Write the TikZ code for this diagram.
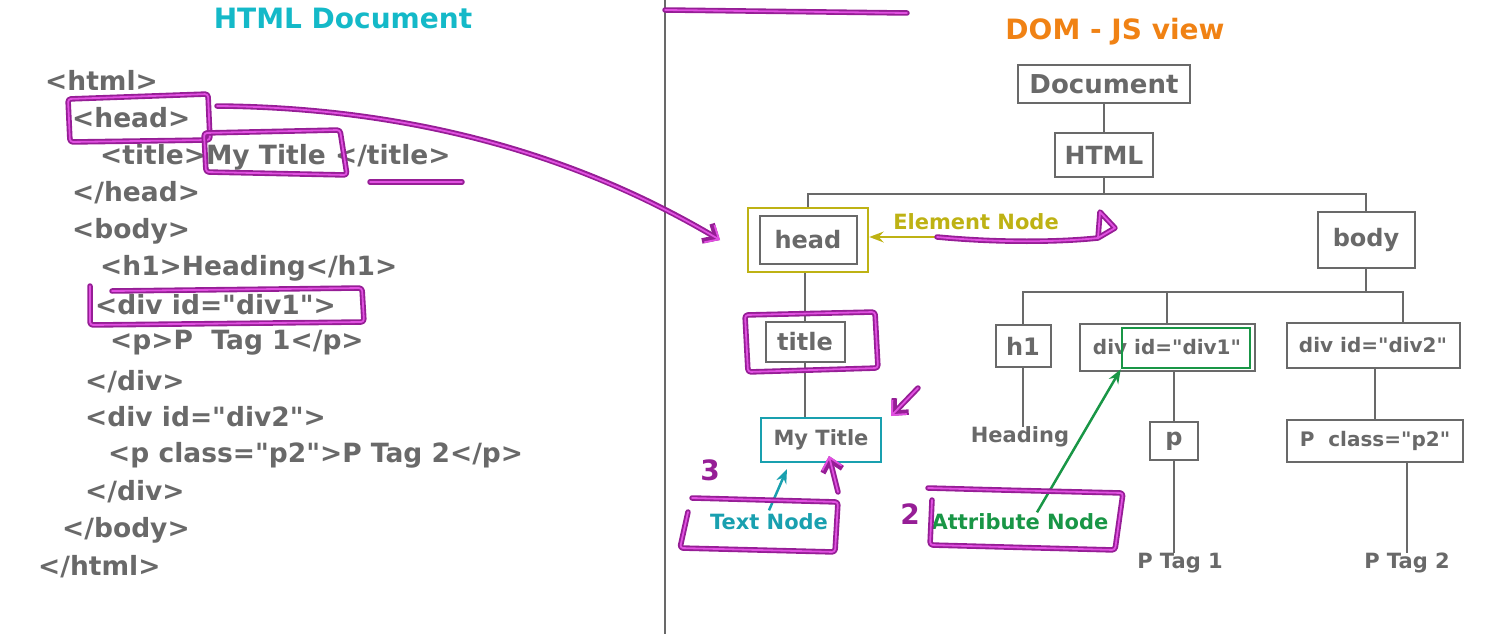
\documentclass[tikz,border=0pt]{standalone}
\usepackage{fontspec}
\setmainfont{DejaVu Sans}[Ligatures=TeXOff]
\usetikzlibrary{calc,arrows.meta}

\definecolor{codegray}{RGB}{105,105,105}
\definecolor{htmlcyan}{RGB}{20,185,200}
\definecolor{domorange}{RGB}{240,130,20}
\definecolor{elyellow}{RGB}{190,178,20}
\definecolor{txtcyan}{RGB}{25,160,175}
\definecolor{attrgreen}{RGB}{25,150,70}
\definecolor{penmag}{RGB}{150,30,150}
\definecolor{penlight}{RGB}{225,80,225}

\newcommand{\fs}[1]{\fontsize{#1}{#1}\selectfont\bfseries}

\begin{document}
\begin{tikzpicture}[
    x=1pt, y=-1pt,
    >=Stealth,
    every node/.style={font=\fs{24}},
    code/.style={anchor=west, inner sep=0pt, text=codegray, font=\fs{26.5}},
    tnode/.style={draw=codegray, line width=2pt, text=codegray, inner sep=0pt},
    attrtext/.style={font=\fs{20}},
    leaf/.style={text=codegray, inner sep=0pt, font=\fs{21}},
    tline/.style={draw=codegray, line width=2pt},
    label/.style={font=\fs{21}},
    pen/.style={draw=penmag, line width=5.5pt, line cap=round, line join=round,
        postaction={draw=penlight, line width=1.8pt}},
    penarrow/.style={pen, -{Straight Barb[length=11pt,width=20pt]}}
]
\useasboundingbox (0,0) rectangle (1492,634);

% ========== left: HTML source ==========
\node[text=htmlcyan, font=\fs{28}] (htmltitle) at (343,18) {HTML Document};

\foreach \i/\x/\y/\t in {
    1/45/80/{<html>}, 2/72/118/{<head>}, 3/100/157/{<title>My Title </title>},
    4/72/193/{</head>}, 5/72/231/{<body>}, 6/100/268/{<h1>Heading</h1>},
    7/95/305/{<div id="div1">}, 8/110/343/{<p>P\ \ Tag 1</p>}, 9/85/382/{</div>},
    10/85/417/{<div id="div2">}, 11/108/455/{<p class="p2">P Tag 2</p>},
    12/85/492/{</div>}, 13/62/530/{</body>}, 14/38/567/{</html>}} {
    \node[code] (line\i) at (\x,\y) {\t};
}

% divider
\draw[codegray, line width=2pt] (665,0) -- (665,634);

% ========== right: DOM tree ==========
\node[text=domorange, font=\fs{28}] (domtitle) at (1115,32) {DOM - JS view};

\node[tnode, font=\fs{26}, minimum width=172, minimum height=38] (doc) at (1104,84) {Document};
\node[tnode, font=\fs{25}, minimum width=98, minimum height=44] (html) at (1104,155) {HTML};
\node[tnode, minimum width=97, minimum height=48] (head) at (808,240) {head};
\node[draw=elyellow, line width=2.5pt, minimum width=120, minimum height=64] (headel) at (808,240) {};
\node[tnode, minimum width=97, minimum height=56] (body) at (1366,240) {body};
\node[tnode, minimum width=79, minimum height=40] (title) at (805,342) {title};
\node[tnode, font=\fs{21}, draw=txtcyan, minimum width=120, minimum height=44] (mytitle) at (821,440) {My Title};
\node[tnode, minimum width=55, minimum height=42] (h1) at (1023,346) {h1};
\node[tnode, attrtext, minimum width=175, minimum height=47] (div1) at (1167,347) {div id="div1"};
\node[draw=attrgreen, line width=2.5pt, minimum width=128, minimum height=40] (div1id) at (1186,348) {};
\node[tnode, attrtext, minimum width=173, minimum height=45] (div2) at (1373,345) {div id="div2"};
\node[tnode, minimum width=48, minimum height=38] (p) at (1174,441) {p};
\node[tnode, attrtext, minimum width=176, minimum height=42] (p2) at (1375,441) {P\ \ class="p2"};
\node[leaf] (heading) at (1020,437) {Heading};
\node[leaf] (ptag1) at (1180,563) {P Tag 1};
\node[leaf] (ptag2) at (1407,563) {P Tag 2};

% connectors
\draw[tline] (doc.south) -- (html.north);
\draw[tline] (html.south) -- ++(0,16) coordinate (hj);
\draw[tline] (headel.north -| head.north) |- (hj) -| (body.north);
\draw[tline] (body.south) -- ++(0,23) coordinate (bj);
\draw[tline] (h1.north) |- (bj) -| ($(div2.north)+(30,0)$);
\draw[tline] (div1.north) -- (div1.north |- bj);
\draw[tline] (headel.south -| title.north) -- (title.north);
\draw[tline] (title.south) -- (title.south |- mytitle.north);
\draw[tline] (h1.south) -- (h1.south |- heading.north);
\draw[tline] (div1.south -| p.north) -- (p.north);
\draw[tline] (p.south) -- (p.south |- ptag1.north);
\draw[tline] (div2.south -| p2.north) -- (p2.north);
\draw[tline] (p2.south -| ptag2.north) -- (ptag2.north);

% ========== node type labels ==========
\node[label, text=elyellow] (elnode) at (976,222) {Element Node};
\node[label, text=txtcyan] (txtnode) at (769,522) {Text Node};
\node[label, text=attrgreen] (attrnode) at (1020,522) {Attribute Node};

\coordinate (elarrow) at (937,237);
\draw[elyellow, line width=2.5pt, ->] (elarrow) -- (elarrow -| headel.east);
\draw[txtcyan, line width=2.5pt, ->] (txtnode.north) -- ($(mytitle.south west)+(27,6)$);
\draw[attrgreen, line width=2.5pt, ->] ($(attrnode.north)+(17,2)$) -- (div1id.south west);

% ========== hand marks ==========
\draw[pen] (665,10) -- (907,13);
\draw[pen, rounded corners=3pt] (68,99) -- (208,94) -- (210,140) -- (70,142) -- cycle;
\draw[pen, rounded corners=3pt] (204,133) -- (340,130) -- (347,175) -- (206,172) -- cycle;
\draw[pen] (370,182) -- (462,182);
\draw[pen, rounded corners=3pt] (90,286) -- (90,325) -- (364,322) -- (362,288) -- (112,291);
\draw[penarrow] (217,106) .. controls (450,108) and (610,175) .. (720,240);

\draw[pen] (elarrow) .. controls (1000,243) and (1060,242) .. (1098,238) -- (1100,212) -- (1115,228) -- (1098,238);
\draw[pen, rounded corners=3pt] (745,315) -- (875,312) -- (878,368) -- (748,372) -- cycle;
\draw[penarrow] (918,388) -- (891,416);
\draw[penarrow] (838,492) -- (829,456);
\draw[pen, rounded corners=3pt] (692,498) -- (838,502) -- (835,552) -- (680,548) -- (688,512);
\draw[pen, rounded corners=3pt] (928,488) .. controls (1000,490) .. (1123,493) -- (1115,550) -- (930,545) -- (932,500);
\node[text=penmag, font=\fs{28}] (three) at (710,470) {3};
\node[text=penmag, font=\fs{28}] (two) at (910,514) {2};

\end{tikzpicture}
\end{document}
